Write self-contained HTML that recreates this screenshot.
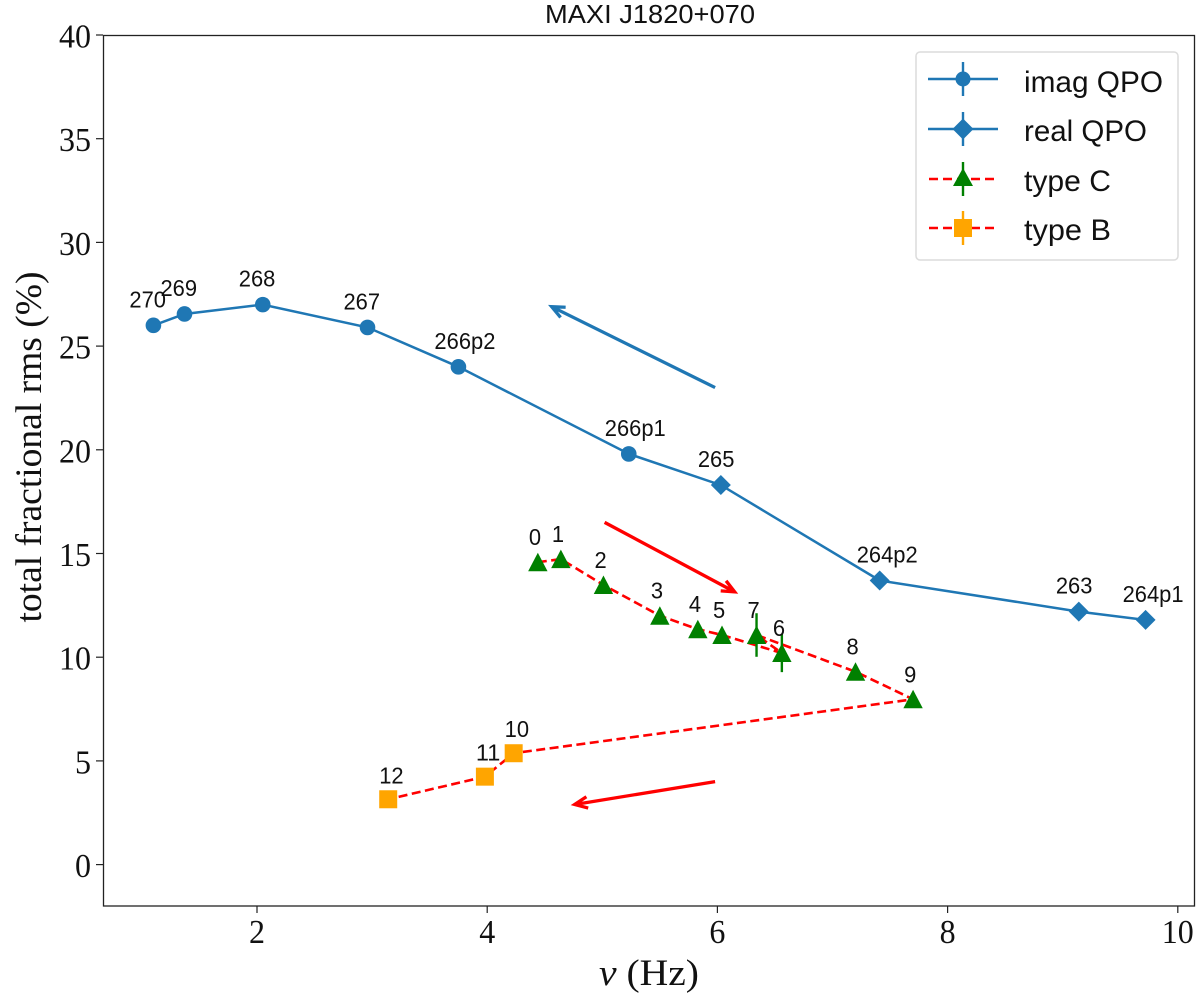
<!DOCTYPE html>
<html lang="en">
<head>
<meta charset="utf-8">
<title>MAXI J1820+070</title>
<style>
html,body{margin:0;padding:0;background:#fff;}
svg{display:block;}
.serif{font-family:"Liberation Serif",serif;fill:#111;}
.sans{font-family:"Liberation Sans",sans-serif;fill:#111;}
</style>
</head>
<body>
<svg id="chart" xmlns="http://www.w3.org/2000/svg" width="1200" height="993" viewBox="0 0 1200 993">
  <rect x="0" y="0" width="1200" height="993" fill="#fff"/>
  <g id="ticks"></g>
  <g id="lines"></g>
  <g id="arrows"></g>
  <g id="marks"></g>
  <g id="labels"></g>
  <rect x="103.5" y="35.5" width="1091" height="870.5" fill="none" stroke="#222" stroke-width="1.3"/>
  <text class="sans" x="545" y="23" font-size="26" textLength="210" lengthAdjust="spacingAndGlyphs">MAXI J1820+070</text>
  <text class="serif" x="599" y="985" font-size="37" textLength="100" lengthAdjust="spacingAndGlyphs"><tspan font-style="italic">ν</tspan> (Hz)</text>
  <text class="serif" transform="translate(41,447) rotate(-90)" font-size="37" text-anchor="middle" textLength="351" lengthAdjust="spacingAndGlyphs">total fractional rms (%)</text>

  <g>
    <rect x="916" y="52" width="262" height="208" rx="4" fill="#fff" fill-opacity="0.9" stroke="#dcdcdc" stroke-width="1.5"/>
    <g>
      <path d="M928 79H998M963 62V96" stroke="#1f77b4" stroke-width="2.4" fill="none"/>
      <circle cx="963" cy="79" r="7.5" fill="#1f77b4"/>
      <text class="sans" x="1024" y="92" font-size="30" textLength="139" lengthAdjust="spacingAndGlyphs">imag QPO</text>
    </g>
    <g>
      <path d="M928 129H998M963 112V146" stroke="#1f77b4" stroke-width="2.4" fill="none"/>
      <path d="M963 118.500L973.500 129L963 139.500L952.500 129Z" fill="#1f77b4"/>
      <text class="sans" x="1024" y="141" font-size="30" textLength="123" lengthAdjust="spacingAndGlyphs">real QPO</text>
    </g>
    <g>
      <path d="M929 179H996" stroke="#ff0000" stroke-width="2.400" stroke-dasharray="9 5" fill="none"/>
      <path d="M963 162V196" stroke="#008000" stroke-width="2.400" fill="none"/>
      <path d="M963 169L973 187H953Z" fill="#008000" transform="translate(0,-1) scale(1)"/>
      <text class="sans" x="1024" y="191" font-size="30" textLength="87" lengthAdjust="spacingAndGlyphs">type C</text>
    </g>
    <g>
      <path d="M929 228H996" stroke="#ff0000" stroke-width="2.400" stroke-dasharray="9 5" fill="none"/>
      <path d="M963 211V245" stroke="#ffa500" stroke-width="2.400" fill="none"/>
      <rect x="954" y="219" width="18" height="18" fill="#ffa500"/>
      <text class="sans" x="1024" y="240" font-size="30" textLength="87" lengthAdjust="spacingAndGlyphs">type B</text>
    </g>
  </g>
</svg>
<script>
// ---- chart data ----
var xTicks = [2, 4, 6, 8, 10];
var yTicks = [0, 5, 10, 15, 20, 25, 30, 35, 40];

var imagNames = ['270', '269', '268', '267', '266p2', '266p1'];
var imagX = [1.10, 1.37, 2.05, 2.96, 3.75, 5.23];
var imagY = [26.0, 26.55, 27.0, 25.9, 24.0, 19.8];

var realNames = ['265', '264p2', '263', '264p1'];
var realX = [6.03, 7.41, 9.14, 9.72];
var realY = [18.3, 13.7, 12.2, 11.8];

var typeCNames = ['0', '1', '2', '3', '4', '5', '6', '7', '8', '9'];
var typeCX = [4.44, 4.64, 5.01, 5.50, 5.83, 6.04, 6.56, 6.34, 7.20, 7.70];
var typeCY = [14.58, 14.73, 13.48, 12.0, 11.35, 11.07, 10.2, 11.07, 9.3, 7.97];
var typeCErr = [0, 0, 0, 0, 0, 0, 0.92, 1.05, 0, 0];

var typeBNames = ['10', '11', '12'];
var typeBX = [4.23, 3.98, 3.14];
var typeBY = [5.37, 4.24, 3.15];

var blueArrowFrom = [5.98, 23.0];
var blueArrowTo = [4.56, 26.9];
var redArrowDownFrom = [5.02, 16.5];
var redArrowDownTo = [6.15, 13.15];
var redArrowLeftFrom = [5.98, 4.0];
var redArrowLeftTo = [4.76, 2.9];

// ---- axis functions ----
function xScale(v) { return 257 + (v - 2) * 115.1; }
function yScale(v) { return 864.6 - v * 20.74; }

var NS = 'http://www.w3.org/2000/svg';
function make(tag, parent, attrs) {
  var el = document.createElementNS(NS, tag);
  for (var k in attrs) { el.setAttribute(k, attrs[k]); }
  parent.appendChild(el);
  return el;
}
function pointsOf(xs, ys) {
  return xs.map(function (x, i) { return xScale(x).toFixed(1) + ',' + yScale(ys[i]).toFixed(1); }).join(' ');
}

var ticksG = document.getElementById('ticks');
var linesG = document.getElementById('lines');
var arrowsG = document.getElementById('arrows');
var marksG = document.getElementById('marks');
var labelsG = document.getElementById('labels');

// ticks
xTicks.forEach(function (t) {
  var px = xScale(t);
  var tick = make('line', ticksG, { x1: px, x2: px, y1: 906, y2: 913, stroke: '#222', 'stroke-width': 1.2 });
  
  
  var lab = make('text', ticksG, { x: px, y: 943, 'font-size': 34, 'text-anchor': 'middle', 'class': 'serif', textLength: 16 * String(t).length, lengthAdjust: 'spacingAndGlyphs' });
  
  
  lab.textContent = t;
});
yTicks.forEach(function (t) {
  var py = yScale(t);
  var tick = make('line', ticksG, { x1: 96, x2: 103, y1: py, y2: py, stroke: '#222', 'stroke-width': 1.2 });
  
  
  var lab = make('text', ticksG, { x: 91, y: py + 12.5, 'font-size': 34, 'text-anchor': 'end', 'class': 'serif', textLength: 16 * String(t).length, lengthAdjust: 'spacingAndGlyphs' });
  
  
  lab.textContent = t;
});

// lines
var qpoLine = make('polyline', linesG, {
  points: pointsOf(imagX.concat(realX), imagY.concat(realY)),
  fill: 'none', stroke: '#1f77b4', 'stroke-width': 2.5
});



var dashLine = make('polyline', linesG, {
  points: pointsOf(typeCX.concat(typeBX), typeCY.concat(typeBY)),
  fill: 'none', stroke: '#ff0000', 'stroke-width': 2.6, 'stroke-dasharray': '9 4.5'
});



// arrows
function drawArrow(from, to, color) {
  var x1 = xScale(from[0]), y1 = yScale(from[1]), x2 = xScale(to[0]), y2 = yScale(to[1]);
  var a = Math.atan2(y2 - y1, x2 - x1), h = 14, s = 0.42;
  var d = 'M' + x1 + ' ' + y1 + 'L' + x2 + ' ' + y2 +
    'M' + (x2 - h * Math.cos(a - s)) + ' ' + (y2 - h * Math.sin(a - s)) +
    'L' + x2 + ' ' + y2 +
    'L' + (x2 - h * Math.cos(a + s)) + ' ' + (y2 - h * Math.sin(a + s));
  return make('path', arrowsG, { d: d, fill: 'none', stroke: color, 'stroke-width': 3.3 });
}
var arrowBlue = drawArrow(blueArrowFrom, blueArrowTo, '#1f77b4');


var arrowDown = drawArrow(redArrowDownFrom, redArrowDownTo, '#ff0000');


var arrowLeft = drawArrow(redArrowLeftFrom, redArrowLeftTo, '#ff0000');



// labels
function drawLabel(text, x, y, dx, dy) {
  var t = make('text', labelsG, { x: xScale(x) + dx, y: yScale(y) + dy, 'font-size': 23.5, 'class': 'sans', textLength: 12.2 * text.length, lengthAdjust: 'spacingAndGlyphs' });
  t.textContent = text;
  return t;
}

// markers
imagX.forEach(function (x, i) {
  var m = make('circle', marksG, { cx: xScale(x), cy: yScale(imagY[i]), r: 7.8, fill: '#1f77b4' });
  
  
  var l = drawLabel(imagNames[i], x, imagY[i], -24, -18);
  
  
});
realX.forEach(function (x, i) {
  var px = xScale(x), py = yScale(realY[i]), r = 10;
  var m = make('path', marksG, { d: 'M' + px + ' ' + (py - r) + 'L' + (px + r) + ' ' + py + 'L' + px + ' ' + (py + r) + 'L' + (px - r) + ' ' + py + 'Z', fill: '#1f77b4' });
  
  
  var l = drawLabel(realNames[i], x, realY[i], -23, -18);
  
  
});
typeCX.forEach(function (x, i) {
  var px = xScale(x), py = yScale(typeCY[i]);
  if (typeCErr[i] > 0) {
    var e = make('line', marksG, { x1: px, x2: px, y1: yScale(typeCY[i] + typeCErr[i]), y2: yScale(typeCY[i] - typeCErr[i]), stroke: '#008000', 'stroke-width': 2.4 });
    
    
  }
  var m = make('path', marksG, { d: 'M' + px + ' ' + (py - 9.5) + 'L' + (px + 9.7) + ' ' + (py + 9) + 'L' + (px - 9.7) + ' ' + (py + 9) + 'Z', fill: '#008000' });
  
  
  var l = drawLabel(typeCNames[i], x, typeCY[i], -9, -17);
  
  
});
typeBX.forEach(function (x, i) {
  var px = xScale(x), py = yScale(typeBY[i]);
  var m = make('rect', marksG, { x: px - 9, y: py - 9, width: 18, height: 18, fill: '#ffa500' });
  
  
  var l = drawLabel(typeBNames[i], x, typeBY[i], -9, -16);
  
  
});
</script>
</body>
</html>
